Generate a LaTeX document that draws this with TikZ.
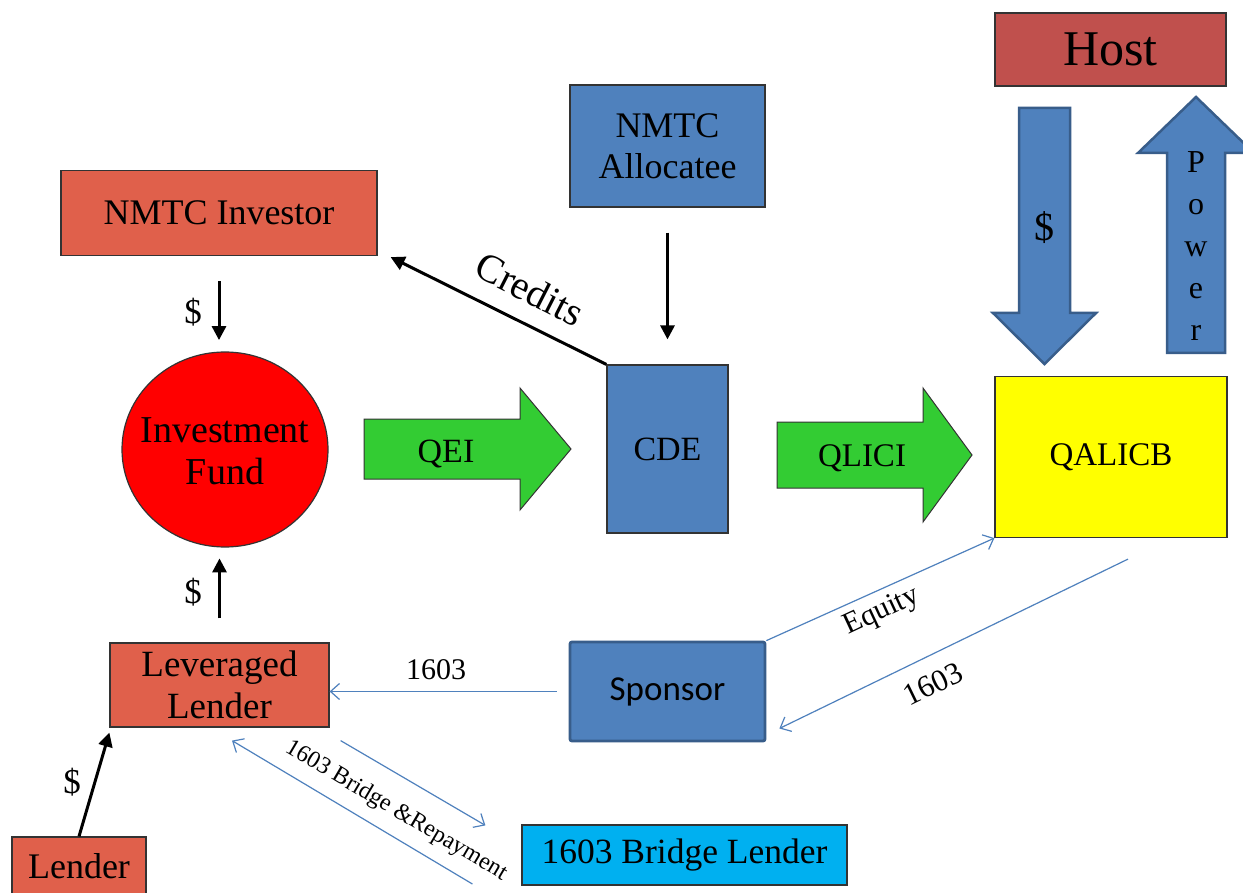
\documentclass[tikz,border=0pt]{standalone}
\usepackage{fontspec}
\setmainfont{Liberation Serif}
\newfontfamily\calib{Carlito}
\usetikzlibrary{arrows.meta,calc,shapes.geometric}
\definecolor{boxred}{HTML}{E0604B}
\definecolor{hostred}{HTML}{C0504D}
\definecolor{boxblue}{HTML}{4F81BD}
\definecolor{bluedark}{HTML}{385D8A}
\definecolor{fatgreen}{HTML}{33CC33}
\definecolor{cyanbox}{HTML}{00B0F0}
\definecolor{boxyellow}{HTML}{FFFF00}
\definecolor{fundred}{HTML}{FF0000}
\definecolor{edgegray}{HTML}{333333}
\tikzset{
  fs/.style={font=\fontsize{#1}{#1}\selectfont},
  boxnode/.style={draw=edgegray, line width=1.2pt, inner sep=0pt, align=center},
  blackarrow/.style={line width=3pt, -{Triangle[length=14pt,width=14pt]}},
  bluearrow/.style={draw=boxblue, line width=1.2pt, -{Straight Barb[length=9pt,width=16pt]}},
  fatarrow/.style={draw=edgegray, line width=1pt},
  fatblue/.style={fill=boxblue, draw=bluedark, line width=2.5pt, line join=miter},
  lbl/.style={inner sep=0pt, align=center}
}
\begin{document}
\begin{tikzpicture}[x=1pt,y=-1pt]
\useasboundingbox (0,0) rectangle (1243,893);
\fill[white] (0,0) rectangle (1243,893);

% boxes
\node[boxnode, fill=hostred, minimum width=231pt, minimum height=73pt, fs=50] (host) at (1110.5,49.5) {Host};
\node[boxnode, fill=boxblue, minimum width=195pt, minimum height=122pt, fs=36] (alloc) at (667.5,146) {NMTC\\[5pt]Allocatee};
\node[boxnode, fill=boxred, minimum width=316pt, minimum height=85pt, fs=36] (inv) at (219,213) {NMTC Investor};
\node[boxnode, ellipse, fill=fundred, minimum width=206pt, minimum height=195pt] (fund) at (225,449.5) {};
\node[lbl, fs=38] (fundtxt) at (225,451) {Investment\\[4pt]Fund};
\node[boxnode, fill=boxblue, minimum width=121pt, minimum height=168pt, fs=34] (cde) at (667.5,449) {\raisebox{-2pt}{CDE}};
\node[boxnode, fill=boxyellow, minimum width=232pt, minimum height=161pt, fs=33] (qalicb) at (1111,457) {\raisebox{-2pt}{QALICB}};
\node[boxnode, fill=boxred, minimum width=219pt, minimum height=84pt, fs=37] (lev) at (219.5,685) {Leveraged\\[5pt]Lender};
\node[boxnode, fill=boxred, minimum width=134pt, minimum height=66pt] (lender) at (79,870) {};
\node[lbl, fs=36] (lendertxt) at (79,866) {Lender};
\node[boxnode, draw=bluedark, line width=2.8pt, rounded corners=2pt, fill=boxblue, minimum width=195pt, minimum height=99pt, font=\calib\fontsize{35}{35}\selectfont] (sponsor) at (667.5,691.5) {\raisebox{-8pt}{Sponsor}};
\node[boxnode, fill=cyanbox, minimum width=325pt, minimum height=60pt, fs=35.5] (bridge) at (684.5,855) {\raisebox{-2pt}{1603 Bridge Lender}};

% fat arrows
\draw[fatarrow, fill=fatgreen] (364,419) -- (520,419) -- (520,388) -- (571,449) -- (520,510) -- (520,479) -- (364,479) -- cycle;
\node[lbl, fs=34] (qei) at (446,454) {QEI};
\draw[fatarrow, fill=fatgreen] (777,422) -- (923,422) -- (923,388) -- (972,455) -- (923,522) -- (923,488) -- (777,488) -- cycle;
\node[lbl, fs=33] (qlici) at (862,458) {QLICI};
\draw[fatblue] (1019,108) -- (1070,108) -- (1070,313) -- (1096,313) -- (1044.5,364) -- (993,313) -- (1019,313) -- cycle;
\node[lbl, fs=40] (money) at (1044,228) {\$};
\draw[fatblue] (1167,353) -- (1167,153) -- (1138,153) -- (1196,97) -- (1254,153) -- (1225,153) -- (1225,353) -- cycle;
\node[lbl, font=\fontsize{32}{42}\selectfont] (power) at (1196,246) {P\\o\\w\\e\\r};

% black arrows
\draw[blackarrow] ($(alloc.south)+(0,25)$) -- ($(cde.north)+(0,-25)$);
\draw[blackarrow] (cde.north west) -- ($(inv.south east)+(13,1)$);
\node[lbl, fs=40, rotate=-27] (credits) at (530,289) {Credits};
\draw[blackarrow] ($(inv.south)+(0,25)$) -- ($(inv.south)+(0,84)$);
\node[lbl, fs=35] (d1) at (193,312) {\$};
\draw[blackarrow] ($(lev.north)+(0,-24)$) -- ($(lev.north)+(0,-84)$);
\node[lbl, fs=35] (d2) at (193,592) {\$};
\draw[blackarrow] (lender.north) -- ($(lev.south west)+(0,5)$);
\node[lbl, fs=35] (d3) at (72,782) {\$};

% blue thin arrows
\draw[bluearrow] ($(sponsor.west)+(-12,0)$) -- (lev.east |- sponsor.west);
\node[lbl, fs=30] (l1603a) at (436,670) {1603};
\draw[bluearrow] (sponsor.north east) -- (qalicb.south west);
\node[lbl, fs=30, rotate=25] (equity) at (882,612) {Equity};
\draw[bluearrow] ($(qalicb.south)+(17,21)$) -- ($(sponsor.east)+(13,37)$);
\node[lbl, fs=31, rotate=26] (l1603b) at (933,684) {1603};
\draw[bluearrow] ($(lev.south east)+(11,13)$) -- ($(bridge.north west)+(-36,1)$);
\draw[bluearrow] ($(bridge.west)+(-49,29)$) -- ($(lev.south)+(12.5,13)$);
\node[lbl, fs=24, rotate=-30.6] (bridgelbl) at (396,811) {1603 Bridge \&Repayment};
\end{tikzpicture}
\end{document}
